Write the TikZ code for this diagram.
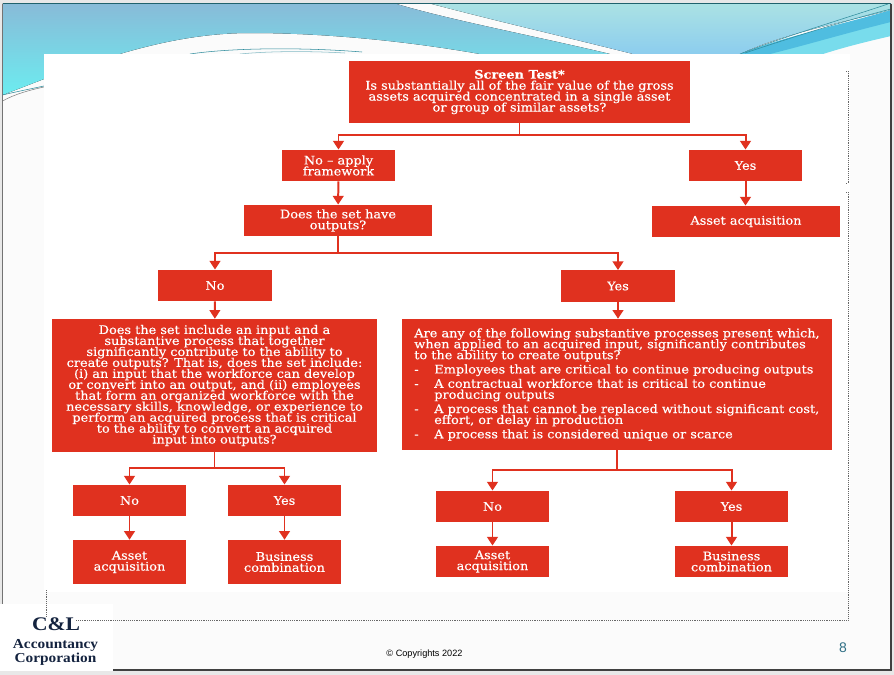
\documentclass[tikz,border=0pt]{standalone}
\usepackage{fontspec}
\setmainfont[FakeStretch=1.09,FakeBold=0.35]{DejaVu Serif}
\newfontfamily\footfont{Liberation Sans}
\newfontfamily\logofont[FakeStretch=1.12]{Liberation Serif}
\usepackage{xcolor}
\usetikzlibrary{arrows.meta}
\definecolor{boxred}{HTML}{E0311F}
\definecolor{slidegrey}{HTML}{E8E8E8}
\definecolor{slidepaper}{HTML}{FBFBFB}
\definecolor{pagenum}{HTML}{2F6F85}
\definecolor{logoblue}{HTML}{14233F}
\definecolor{bandtop}{HTML}{88BBD8}
\definecolor{bandlow}{HTML}{6CECF0}
\definecolor{skytop}{HTML}{ABE2E4}
\definecolor{skylow}{HTML}{8CCDEE}
\definecolor{ribbon}{HTML}{4FBDE0}
\definecolor{ribbonlow}{HTML}{78DCEC}
\definecolor{hairline}{HTML}{2E8C9C}
\newcommand{\boxfont}{\fontsize{8.9}{8.25}\selectfont\lineskiplimit -20pt\relax}
\newcommand{\logotextfont}{\logofont\bfseries\fontsize{10.3}{10.5}\selectfont\lineskiplimit -20pt\relax}
\tikzstyle{box}=[fill=boxred,text=white,align=center,inner sep=0pt,font=\boxfont]
\tikzstyle{tiny}=[box,minimum width=85bp,minimum height=23.5bp]
\tikzstyle{link}=[draw=boxred,line width=1.5pt,->,>={Triangle[width=8bp,length=6.5bp]}]
\tikzstyle{dots}=[densely dotted,black!60,line width=0.4pt]
\begin{document}
\begin{tikzpicture}[x=0.75bp,y=-0.75bp]
      \useasboundingbox (0,0) rectangle (894,675);
      \fill [slidegrey] (0,0) rectangle (894,675);
      \fill [slidepaper] (2.5,3.5) rectangle (891,670);
      \fill [top color=bandtop,bottom color=bandlow] (2.5,3.5) -- (395,3.5) .. controls (450,20) and (530,35) .. (610,54) -- (480,54) .. controls (400,40) and (320,33) .. (250,33) .. controls (170,33) and (100,60) .. (44,79) -- (2.5,95) -- cycle;
      \fill [top color=skytop,bottom color=skylow] (430,3.5) -- (891,3.5) -- (891,10) .. controls (830,25) and (780,35) .. (740,54) -- (633,54) .. controls (570,38) and (500,22) .. (430,3.5) -- cycle;
      \fill [ribbonlow] (740,54) .. controls (790,35) and (840,25) .. (891,14) -- (891,36) .. controls (865,42) and (845,47) .. (823,54) -- cycle;
      \fill [ribbon] (740,54) .. controls (790,35) and (840,25) .. (891,10) -- (891,22) .. controls (850,32) and (810,44) .. (770,54) -- cycle;
      \draw [hairline,line width=0.4pt] (740,54) .. controls (780,38) and (840,20) .. (888,4);
      \draw [hairline,line width=0.4pt] (745,53) .. controls (790,38) and (840,22) .. (891,9);
      \draw [hairline,line width=0.4pt] (2.5,95) .. controls (15,92) and (30,89) .. (44,86);
      \draw [gray,line width=0.4pt] (2.5,101) .. controls (15,94) and (30,90) .. (44,87);
      \draw [hairline,line width=0.4pt] (190,54) .. controls (230,48) and (300,47) .. (362,52);
      \draw [hairline!60,line width=0.4pt] (240,54) .. controls (270,51) and (310,51) .. (345,53);
      \fill [white] (44,54) rectangle (850,592);
      \draw [hairline!70!black,line width=0.7pt] (2.5,3.5) -- (891,3.5);
      \draw [black!55,line width=0.5pt] (2.5,604) -- (2.5,3.5);
      \draw [black!75,line width=0.8pt] (2.5,670) -- (891,670) -- (891,3.5);
      \draw [dots] (846,71) -- (848,71) -- (848,183) -- (846,183);
      \node [box,minimum width=255.75bp,minimum height=46.5bp] (screen) at (519.5,92) {{\bfseries Screen Test*}\\Is substantially all of the fair value of the gross\\assets acquired concentrated in a single asset\\or group of similar assets?};
      \node [tiny] (noframe) at (338.5,165.5) {No -- apply\\framework};
      \node [tiny] (yesasset) at (745.5,165.5) {Yes};
      \node [box,minimum width=141bp,minimum height=23.5bp] (outputs) at (338,220.5) {Does the set have\\outputs?};
      \node [box,minimum width=141bp,minimum height=23.5bp] (assetone) at (746,221.5) {Asset acquisition};
      \node [tiny] (nooutputs) at (215,285.5) {No};
      \node [tiny] (yesoutputs) at (618,286) {Yes};
      \node [box,minimum width=243.75bp,minimum height=99.75bp] (inputbox) at (214.5,385.5) {Does the set include an input and a\\substantive process that together\\significantly contribute to the ability to\\create outputs? That is, does the set include:\\(i) an input that the workforce can develop\\or convert into an output, and (ii) employees\\that form an organized workforce with the\\necessary skills, knowledge, or experience to\\perform an acquired process that is critical\\to the ability to convert an acquired\\input into outputs?};
      \node [box,minimum width=322.5bp,minimum height=98.25bp,align=left] (processbox) at (617,384.5) {Are any of the following substantive processes present which,\\when applied to an acquired input, significantly contributes\\to the ability to create outputs?\\[2.5bp]\makebox[15bp][l]{-}Employees that are critical to continue producing outputs\\[2.5bp]\makebox[15bp][l]{-}A contractual workforce that is critical to continue\\\hspace*{15bp}producing outputs\\[2.5bp]\makebox[15bp][l]{-}A process that cannot be replaced without significant cost,\\\hspace*{15bp}effort, or delay in production\\[2.5bp]\makebox[15bp][l]{-}A process that is considered unique or scarce};
      \node [tiny] (noleft) at (129.5,500.5) {No};
      \node [tiny] (yesleft) at (284.5,500.5) {Yes};
      \node [tiny,minimum height=33bp] (assetleft) at (129.5,562) {Asset\\acquisition};
      \node [tiny,minimum height=33bp] (businessleft) at (284.5,562) {Business\\combination};
      \node [tiny] (noright) at (492.5,506.5) {No};
      \node [tiny] (yesright) at (731.5,506.5) {Yes};
      \node [tiny] (assetright) at (492.5,561.5) {Asset\\acquisition};
      \node [tiny] (businessright) at (731.5,561.5) {Business\\combination};
      \draw [link] (screen.south) -- ++(0,12) -| (noframe.north);
      \draw [link] (screen.south) -- ++(0,12) -| (yesasset.north);
      \draw [link] (noframe) -- (outputs);
      \draw [link] (yesasset.south) -- (yesasset.south |- assetone.north);
      \draw [link] (outputs.south) -- ++(0,17) -| (nooutputs.north);
      \draw [link] (outputs.south) -- ++(0,17) -| (yesoutputs.north);
      \draw [link] (nooutputs) -- (inputbox);
      \draw [link] (yesoutputs.south) -- (yesoutputs.south |- processbox.north);
      \draw [link] (inputbox.south) -- ++(0,16) -| (noleft.north);
      \draw [link] (inputbox.south) -- ++(0,16) -| (yesleft.north);
      \draw [link] (processbox.south) -- ++(0,20) -| (noright.north);
      \draw [link] (processbox.south) -- ++(0,20) -| (yesright.north);
      \draw [link] (noleft) -- (assetleft);
      \draw [link] (yesleft) -- (businessleft);
      \draw [link] (noright) -- (assetright);
      \draw [link] (yesright) -- (businessright);
      \fill [white] (0,604) rectangle (113,671);
      \draw [dots] (846,192) -- (848,192) -- (848,620) -- (75,620);
      \draw [dots] (46.5,590) -- (46.5,617);
      \node [text=logoblue,font=\logofont\bfseries\fontsize{14.5}{14.5}\selectfont] (logomark) at (56,624) {C\&L};
      \node [text=logoblue,align=center,font=\logotextfont] (logotext) at (55.5,652) {Accountancy\\Corporation};
      \node [font=\footfont\fontsize{6.9}{8}\selectfont] (copyright) at (424.5,654) {© Copyrights 2022};
      \node [text=pagenum,font=\footfont\fontsize{10.5}{12}\selectfont] (pageno) at (843,648) {8};
    \end{tikzpicture}
\end{document}
